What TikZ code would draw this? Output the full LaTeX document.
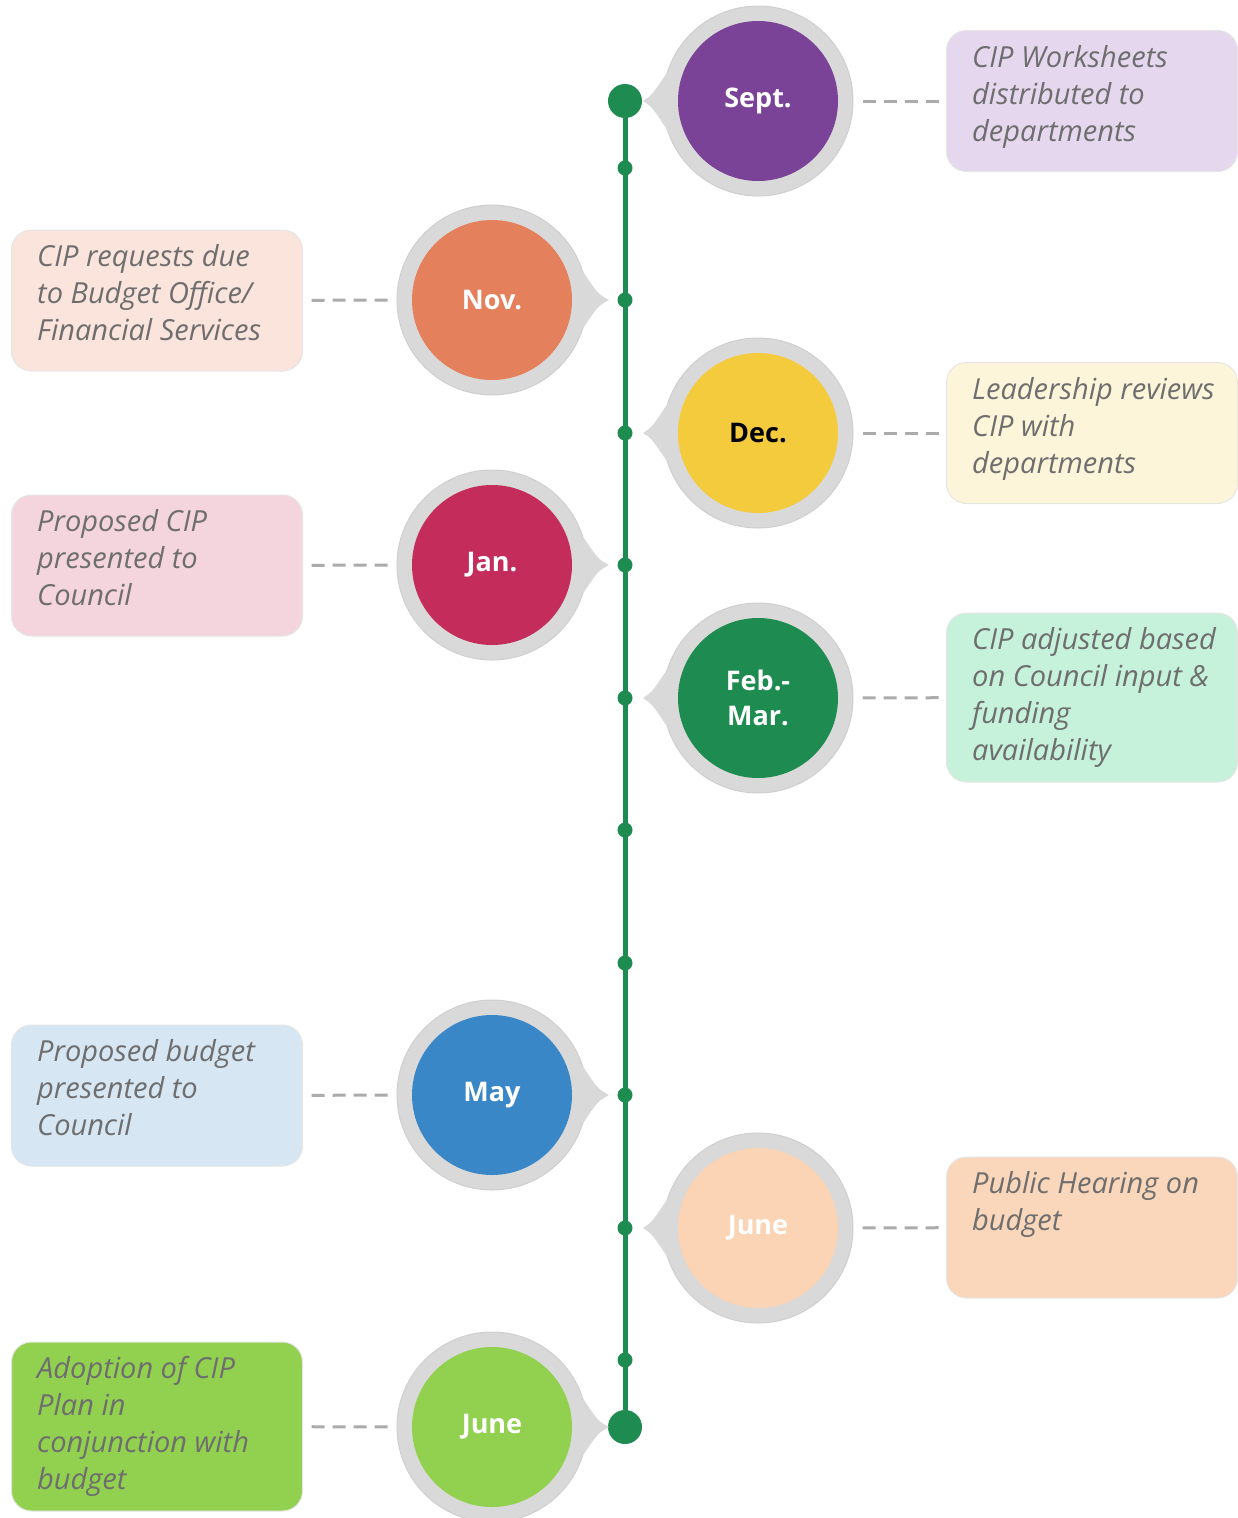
\documentclass[tikz,border=0pt]{standalone}
\usepackage{fontspec}
\setmainfont{Open Sans}
\definecolor{ringgray}{HTML}{D9D9D9}
\definecolor{ringedge}{HTML}{CFCFCF}
\definecolor{tlgreen}{HTML}{1E8C50}
\definecolor{descgray}{HTML}{6E6E6E}
\definecolor{linkgray}{HTML}{ABABAB}
\definecolor{cSep}{HTML}{7B4397}\definecolor{bSep}{HTML}{E5D7EE}
\definecolor{cNov}{HTML}{E5805C}\definecolor{bNov}{HTML}{FAE4DC}
\definecolor{cDec}{HTML}{F4CB3C}\definecolor{bDec}{HTML}{FDF5DA}
\definecolor{cJan}{HTML}{C42D5B}\definecolor{bJan}{HTML}{F4D5DE}
\definecolor{cFeb}{HTML}{1E8C50}\definecolor{bFeb}{HTML}{C6F1DB}
\definecolor{cMay}{HTML}{3A87C8}\definecolor{bMay}{HTML}{D6E6F3}
\definecolor{cJuR}{HTML}{FAD4B4}\definecolor{bJuR}{HTML}{FAD6BA}
\definecolor{cJuL}{HTML}{92D050}\definecolor{bJuL}{HTML}{92D050}
\tikzset{
  ring/.style={circle, fill=ringgray, draw=ringedge, line width=1pt, minimum size=190pt, inner sep=0pt},
  month/.style={circle, minimum size=160pt, inner sep=0pt, align=center,
    font=\fontsize{27}{35}\selectfont\bfseries, text=white},
  infobox/.style={rounded corners=20pt, draw=black!10, line width=1pt, minimum width=291pt, inner sep=0pt},
  desc/.style={anchor=north west, align=left, inner sep=0pt,
    font=\fontsize{29}{37}\selectfont\itshape, text=descgray},
  link/.style={draw=linkgray, line width=3pt, dash pattern=on 13pt off 8pt, shorten <=9pt, shorten >=5pt},
  bigdot/.style={circle, fill=tlgreen, minimum size=34pt, inner sep=0pt},
  smalldot/.style={circle, fill=tlgreen, minimum size=15pt, inner sep=0pt},
}
\begin{document}
\begin{tikzpicture}[x=1pt,y=-1pt]
\useasboundingbox (0,0) rectangle (1238,1518);
% timeline
\node[bigdot] (top) at (625,101) {};
\node[bigdot] (bot) at (625,1427) {};
\draw[tlgreen, line width=5pt] (top.center) -- (bot.center);
\foreach \yy [count=\i] in {168,300,433,565,698,830,963,1095,1228,1360}
  \node[smalldot] (d\i) at (625,\yy) {};

% right side circles
\foreach \nm/\yy/\col/\lab/\tcol in {sep/101/cSep/Sept./white, dec/433/cDec/Dec./black, feb/698/cFeb/{Feb.-\\Mar.}/white, jur/1228/cJuR/June/white}{
  \node[ring] (r\nm) at (758,\yy) {};
  \fill[ringgray] (r\nm.163) .. controls (652,\yy-6) .. (643,\yy) .. controls (652,\yy+6) .. (r\nm.197) -- (758,\yy) -- cycle;
  \node[month, fill=\col, text=\tcol] (m\nm) at (758,\yy) {\lab};
}
% left side circles
\foreach \nm/\yy/\col/\lab in {nov/300/cNov/Nov., jan/565/cJan/Jan., may/1095/cMay/May, jul/1427/cJuL/June}{
  \node[ring] (r\nm) at (492,\yy) {};
  \fill[ringgray] (r\nm.17) .. controls (598,\yy-6) .. (609,\yy) .. controls (598,\yy+6) .. (r\nm.-17) -- (492,\yy) -- cycle;
  \node[month, fill=\col] (m\nm) at (492,\yy) {\lab};
}

% boxes right
\node[infobox, fill=bSep, minimum height=141pt] (bsep) at (1092,101) {};
\node[infobox, fill=bDec, minimum height=141pt] (bdec) at (1092,433) {};
\node[infobox, fill=bFeb, minimum height=169pt] (bfeb) at (1092,697.5) {};
\node[infobox, fill=bJuR, minimum height=141pt] (bjur) at (1092,1227.5) {};
% boxes left
\node[infobox, fill=bNov, minimum height=141pt] (bnov) at (157,300.5) {};
\node[infobox, fill=bJan, minimum height=141pt] (bjan) at (157,565.5) {};
\node[infobox, fill=bMay, minimum height=141pt] (bmay) at (157,1095.5) {};
\node[infobox, fill=bJuL, minimum height=169pt] (bjul) at (157,1426.5) {};

% texts
\node[desc] (tsep) at ([shift={(26,15)}]bsep.north west) {CIP Worksheets\\distributed to\\departments};
\node[desc] (tdec) at ([shift={(26,15)}]bdec.north west) {Leadership reviews\\CIP with\\departments};
\node[desc] (tfeb) at ([shift={(26,15)}]bfeb.north west) {CIP adjusted based\\on Council input \&\\funding\\availability};
\node[desc] (tjur) at ([shift={(26,15)}]bjur.north west) {Public Hearing on\\budget};
\node[desc] (tnov) at ([shift={(26,15)}]bnov.north west) {CIP requests due\\to Budget Office/\\Financial Services};
\node[desc] (tjan) at ([shift={(26,15)}]bjan.north west) {Proposed CIP\\presented to\\Council};
\node[desc] (tmay) at ([shift={(26,15)}]bmay.north west) {Proposed budget\\presented to\\Council};
\node[desc] (tjul) at ([shift={(26,15)}]bjul.north west) {Adoption of CIP\\Plan in\\conjunction with\\budget};

% dashed links
\foreach \nm in {sep,dec,feb,jur,nov,jan,may,jul}
  \draw[link] (r\nm) -- (b\nm);
\end{tikzpicture}
\end{document}
